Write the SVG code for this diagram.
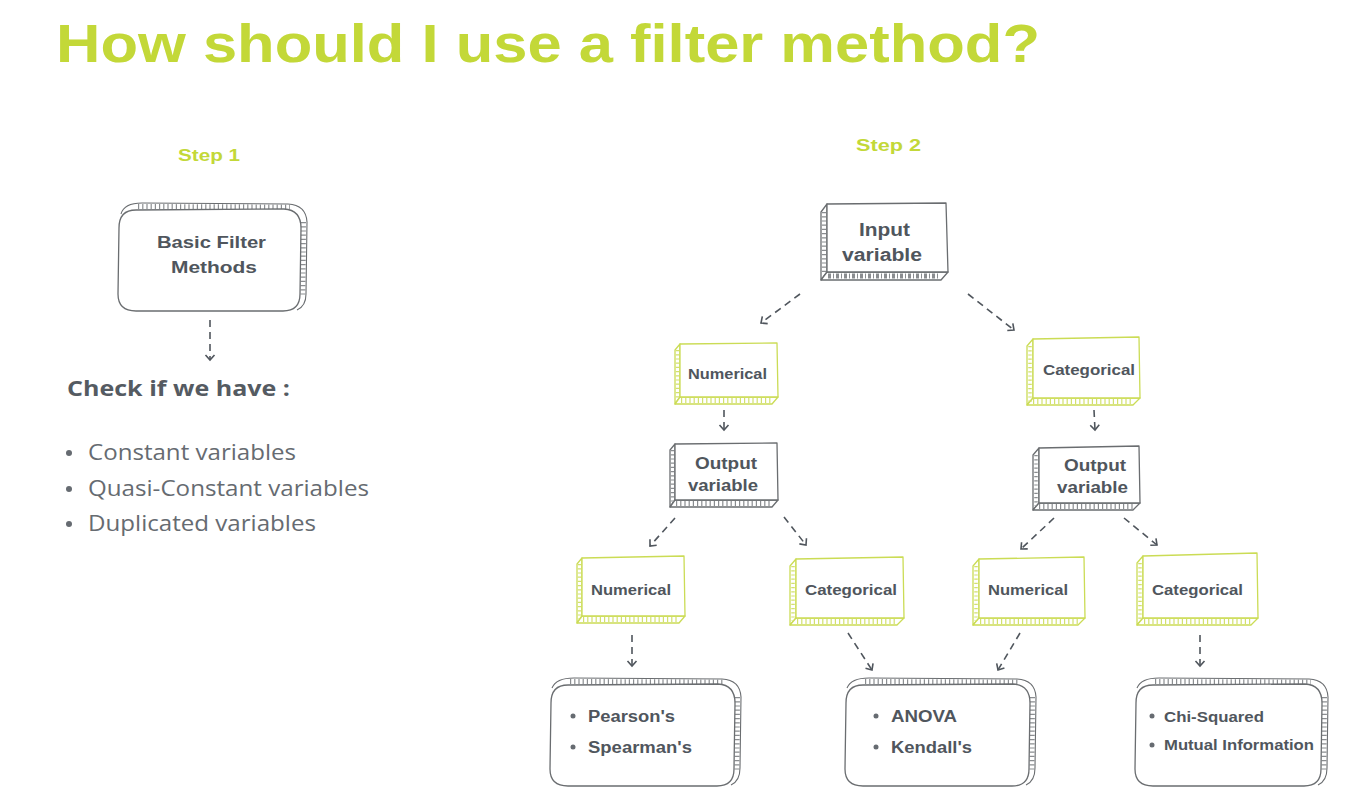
<svg xmlns="http://www.w3.org/2000/svg" width="1350" height="796" viewBox="0 0 1350 796">
<defs>
<style>
.title{font-family:"Liberation Sans",Arial,sans-serif;font-weight:bold;font-size:54px;fill:#c3d838}
.step{font-family:"Liberation Sans",Arial,sans-serif;font-weight:bold;font-size:17px;fill:#c3d838}
.lbl{font-family:"Liberation Sans",Arial,sans-serif;font-weight:bold;fill:#50565d}
.big{font-size:18px}
.mid{font-size:17px}
.sm{font-size:14px}
.res{font-family:"Liberation Sans",Arial,sans-serif;font-weight:bold;font-size:16px;fill:#50565d}
.chk{font-family:"Open Sans","Noto Sans",sans-serif;font-weight:bold;font-size:21px;fill:#555b62}
.li{font-family:"Open Sans","Noto Sans",sans-serif;font-size:21px;fill:#666b71}
.dot{fill:#666b71}
.g{fill:#fff;stroke:#6a6d70;stroke-width:1.3;stroke-linejoin:round}
.gl{fill:none;stroke:#6a6d70;stroke-width:1.1}
.l{fill:#fff;stroke:#cbdc55;stroke-width:1.3;stroke-linejoin:round}
.hg{fill:none;stroke:#8a8d90;stroke-dasharray:1.2 3}
.hl{fill:none;stroke:#d2e06e;stroke-dasharray:1.2 3}
.arr{fill:none;stroke:#50565d;stroke-width:1.6;stroke-dasharray:7 5;marker-end:url(#ah)}
</style>
<marker id="ah" viewBox="-6 -6 8 12" markerWidth="8" markerHeight="12" refX="0" refY="0" orient="auto" markerUnits="userSpaceOnUse">
<path d="M-5,-4.5 L0,0 L-5,4.5" fill="none" stroke="#50565d" stroke-width="1.6"/>
</marker>
</defs>
<rect width="1350" height="796" fill="#ffffff"/>

<text class="title" x="56" y="62" textLength="984" lengthAdjust="spacingAndGlyphs">How should I use a filter method?</text>
<text class="step" x="178" y="161" textLength="62" lengthAdjust="spacingAndGlyphs">Step 1</text>
<text class="step" x="856" y="151" textLength="65" lengthAdjust="spacingAndGlyphs">Step 2</text>

<g id="connectors">
<path class="arr" d="M210,320 L210,360"/>
<path class="arr" d="M800,294 L761,323"/>
<path class="arr" d="M968,294 L1014,330"/>
<path class="arr" d="M724,410 L724,430"/>
<path class="arr" d="M1094,410 L1095,430"/>
<path class="arr" d="M675,518 L650,546"/>
<path class="arr" d="M784,517 L806,545"/>
<path class="arr" d="M1054,518 L1021,549"/>
<path class="arr" d="M1124,518 L1157,545"/>
<path class="arr" d="M632,635 L632,666"/>
<path class="arr" d="M848,633 L872,670"/>
<path class="arr" d="M1020,633 L998,670"/>
<path class="arr" d="M1200,635 L1200,666"/>
</g>

<g id="basic-filter">
<path class="gl" d="M121,214 Q124,203 142,203 L288,204 Q306,205 307,222 L306,294 Q306,306 297,310"/>
<path class="hg" stroke-width="5" d="M138,206.5 L290,207"/>
<path class="hg" stroke-width="5" d="M303.5,222 L303,296"/>
<path class="g" d="M136,210 L284,209 Q301,210 301,228 L300,294 Q300,311 283,311 L136,311 Q118,311 118,294 L119,228 Q119,210 136,210 Z"/>
<text class="lbl mid" x="157" y="248" textLength="109" lengthAdjust="spacingAndGlyphs">Basic Filter</text>
<text class="lbl mid" x="171" y="273" textLength="86" lengthAdjust="spacingAndGlyphs">Methods</text>
</g>

<g id="check-list">
<text class="chk" x="67" y="396" textLength="223" lengthAdjust="spacingAndGlyphs">Check if we have :</text>
<circle class="dot" cx="69" cy="453" r="3"/>
<text class="li" x="88" y="460" textLength="208" lengthAdjust="spacingAndGlyphs">Constant variables</text>
<circle class="dot" cx="69" cy="489" r="3"/>
<text class="li" x="88" y="496" textLength="281" lengthAdjust="spacingAndGlyphs">Quasi-Constant variables</text>
<circle class="dot" cx="69" cy="524" r="3"/>
<text class="li" x="88" y="531" textLength="228" lengthAdjust="spacingAndGlyphs">Duplicated variables</text>
</g>

<g id="input-variable">
<path class="g" d="M827,204 L821,212 L821,280 L827,272 Z"/>
<path class="g" d="M821,280 L941,280 L948,272 L827,272 Z"/>
<path class="hg" stroke-width="4" d="M824,212 L824,274"/>
<path class="hg" stroke-width="5" d="M828,276 L940,276" style="stroke-dasharray:3 2 1 2"/>
<path class="g" d="M827,204 L946,203 L948,272 L827,272 Z"/>
<text class="lbl big" x="859" y="236" textLength="51" lengthAdjust="spacingAndGlyphs">Input</text>
<text class="lbl big" x="842" y="261" textLength="80" lengthAdjust="spacingAndGlyphs">variable</text>
</g>

<g id="numerical-1">
<path class="l" d="M680,344 L675,350 L675,404 L680,397 Z"/>
<path class="l" d="M675,404 L772,404 L778,397 L680,397 Z"/>
<path class="hl" stroke-width="3.5" d="M677.5,350 L677.5,400"/>
<path class="hl" stroke-width="5" d="M681,400.5 L771,400.5"/>
<path class="l" d="M680,344 L777,343 L778,397 L680,397 Z"/>
<text class="lbl sm" x="688" y="379" textLength="79" lengthAdjust="spacingAndGlyphs">Numerical</text>
</g>

<g id="categorical-1">
<path class="l" d="M1033,339 L1027,346 L1027,405 L1033,398 Z"/>
<path class="l" d="M1027,405 L1133,405 L1140,398 L1033,398 Z"/>
<path class="hl" stroke-width="3.5" d="M1030,346 L1030,402"/>
<path class="hl" stroke-width="5" d="M1033,401.5 L1133,401.5"/>
<path class="l" d="M1033,339 L1139,337 L1140,398 L1033,398 Z"/>
<text class="lbl sm" x="1043" y="375" textLength="92" lengthAdjust="spacingAndGlyphs">Categorical</text>
</g>

<g id="output-variable-1">
<path class="g" d="M675,444 L670,450 L670,507 L675,500 Z"/>
<path class="g" d="M670,507 L772,507 L778,500 L675,500 Z"/>
<path class="hg" stroke-width="3.5" d="M672.5,450 L672.5,503"/>
<path class="hg" stroke-width="5" d="M676,503.5 L771,503.5"/>
<path class="g" d="M675,444 L777,443 L778,500 L675,500 Z"/>
<text class="lbl mid" x="695" y="469" textLength="62" lengthAdjust="spacingAndGlyphs">Output</text>
<text class="lbl mid" x="688" y="491" textLength="70" lengthAdjust="spacingAndGlyphs">variable</text>
</g>

<g id="output-variable-2">
<path class="g" d="M1039,448 L1033,455 L1033,510 L1039,503 Z"/>
<path class="g" d="M1033,510 L1133,510 L1140,503 L1039,503 Z"/>
<path class="hg" stroke-width="3.5" d="M1036,455 L1036,506"/>
<path class="hg" stroke-width="5" d="M1039,506.5 L1133,506.5"/>
<path class="g" d="M1039,448 L1139,446 L1140,503 L1039,503 Z"/>
<text class="lbl mid" x="1064" y="471" textLength="62" lengthAdjust="spacingAndGlyphs">Output</text>
<text class="lbl mid" x="1057" y="493" textLength="71" lengthAdjust="spacingAndGlyphs">variable</text>
</g>

<g id="numerical-2">
<path class="l" d="M582,558 L577,564 L577,623 L582,616 Z"/>
<path class="l" d="M577,623 L679,623 L685,616 L582,616 Z"/>
<path class="hl" stroke-width="3.5" d="M579.5,564 L579.5,619"/>
<path class="hl" stroke-width="5" d="M583,619.5 L678,619.5"/>
<path class="l" d="M582,558 L684,556 L685,616 L582,616 Z"/>
<text class="lbl sm" x="591" y="595" textLength="80" lengthAdjust="spacingAndGlyphs">Numerical</text>
</g>

<g id="categorical-2">
<path class="l" d="M796,559 L790,566 L790,625 L796,618 Z"/>
<path class="l" d="M790,625 L897,625 L904,618 L796,618 Z"/>
<path class="hl" stroke-width="3.5" d="M793,566 L793,621"/>
<path class="hl" stroke-width="5" d="M797,621.5 L897,621.5"/>
<path class="l" d="M796,559 L903,557 L904,618 L796,618 Z"/>
<text class="lbl sm" x="805" y="595" textLength="92" lengthAdjust="spacingAndGlyphs">Categorical</text>
</g>

<g id="numerical-3">
<path class="l" d="M979,559 L973,566 L973,625 L979,618 Z"/>
<path class="l" d="M973,625 L1078,625 L1085,618 L979,618 Z"/>
<path class="hl" stroke-width="3.5" d="M976,566 L976,621"/>
<path class="hl" stroke-width="5" d="M980,621.5 L1078,621.5"/>
<path class="l" d="M979,559 L1084,557 L1085,618 L979,618 Z"/>
<text class="lbl sm" x="988" y="595" textLength="80" lengthAdjust="spacingAndGlyphs">Numerical</text>
</g>

<g id="categorical-3">
<path class="l" d="M1143,556 L1137,563 L1137,625 L1143,618 Z"/>
<path class="l" d="M1137,625 L1251,625 L1258,618 L1143,618 Z"/>
<path class="hl" stroke-width="3.5" d="M1140,563 L1140,621"/>
<path class="hl" stroke-width="5" d="M1144,621.5 L1251,621.5"/>
<path class="l" d="M1143,556 L1257,553 L1258,618 L1143,618 Z"/>
<text class="lbl sm" x="1152" y="595" textLength="91" lengthAdjust="spacingAndGlyphs">Categorical</text>
</g>

<g id="result-1">
<path class="gl" d="M552,688 Q556,678 574,678 L722,679 Q740,680 741,697 L740,768 Q740,781 731,785"/>
<path class="hg" stroke-width="5" d="M570,681.5 L724,682"/>
<path class="hg" stroke-width="5" d="M737.5,697 L737,770"/>
<path class="g" d="M568,685 L718,684 Q735,685 735,703 L734,769 Q734,786 717,786 L568,786 Q550,786 550,769 L551,703 Q551,685 568,685 Z"/>
<circle class="dot" cx="573" cy="716" r="2.5"/>
<text class="res" x="588" y="722" textLength="87" lengthAdjust="spacingAndGlyphs">Pearson's</text>
<circle class="dot" cx="573" cy="747" r="2.5"/>
<text class="res" x="588" y="753" textLength="104" lengthAdjust="spacingAndGlyphs">Spearman's</text>
</g>

<g id="result-2">
<path class="gl" d="M847,688 Q851,678 869,678 L1017,679 Q1035,680 1036,697 L1035,768 Q1035,781 1026,785"/>
<path class="hg" stroke-width="5" d="M865,681.5 L1019,682"/>
<path class="hg" stroke-width="5" d="M1032.5,697 L1032,770"/>
<path class="g" d="M863,685 L1013,684 Q1030,685 1030,703 L1029,769 Q1029,786 1012,786 L863,786 Q845,786 845,769 L846,703 Q846,685 863,685 Z"/>
<circle class="dot" cx="876" cy="716" r="2.5"/>
<text class="res" x="891" y="722" textLength="66" lengthAdjust="spacingAndGlyphs">ANOVA</text>
<circle class="dot" cx="876" cy="747" r="2.5"/>
<text class="res" x="891" y="753" textLength="81" lengthAdjust="spacingAndGlyphs">Kendall's</text>
</g>

<g id="result-3">
<path class="gl" d="M1137,688 Q1141,678 1159,678 L1309,679 Q1327,680 1328,697 L1327,768 Q1327,781 1318,785"/>
<path class="hg" stroke-width="5" d="M1155,681.5 L1311,682"/>
<path class="hg" stroke-width="5" d="M1324.5,697 L1324,770"/>
<path class="g" d="M1153,685 L1305,684 Q1322,685 1322,703 L1321,769 Q1321,786 1304,786 L1153,786 Q1135,786 1135,769 L1136,703 Q1136,685 1153,685 Z"/>
<circle class="dot" cx="1152" cy="716" r="2.5"/>
<text class="res" x="1164" y="722" style="font-size:15px" textLength="100" lengthAdjust="spacingAndGlyphs">Chi-Squared</text>
<circle class="dot" cx="1152" cy="745" r="2.5"/>
<text class="res" x="1164" y="750" style="font-size:15px" textLength="150" lengthAdjust="spacingAndGlyphs">Mutual Information</text>
</g>
</svg>
